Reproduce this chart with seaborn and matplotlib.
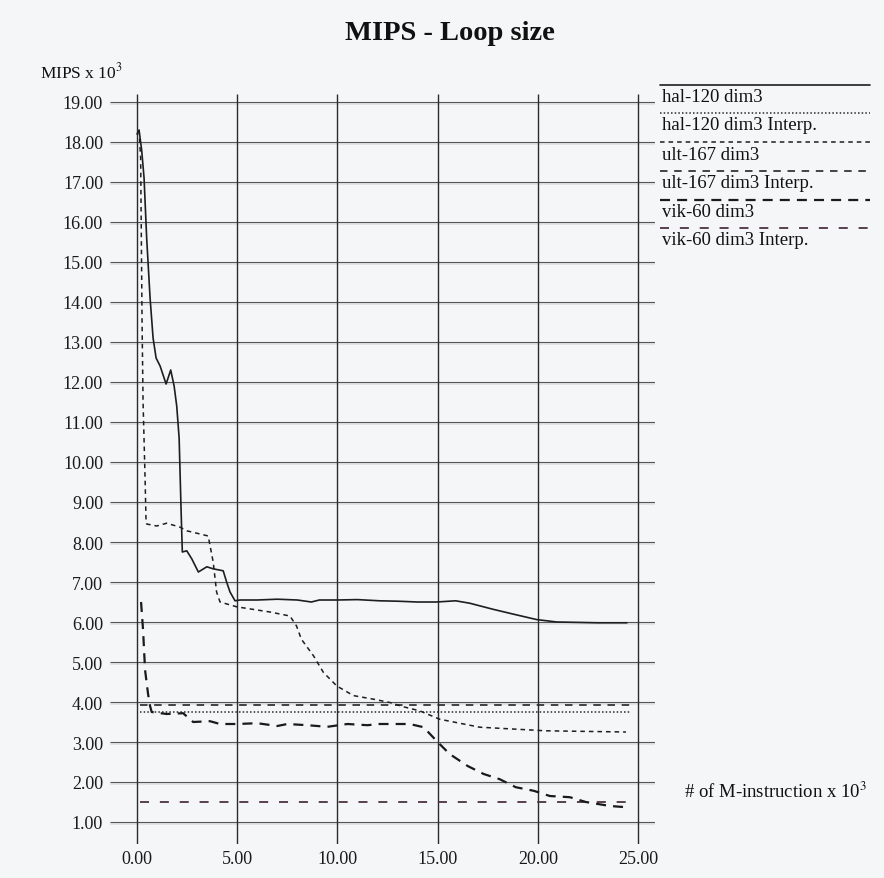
import matplotlib
matplotlib.use("Agg")
import matplotlib.pyplot as plt
import seaborn as sns
import numpy as np
import pandas as pd

# ---- data (x in 10^3 M-instructions, y in 10^3 MIPS) ----
hal_x = [0.0, 0.1, 0.23, 0.35, 0.48, 0.65, 0.8, 0.95, 1.15, 1.45, 1.68, 1.85, 1.98, 2.1,
         2.2, 2.26, 2.48, 2.73, 3.06, 3.48, 3.8, 4.3, 4.47, 4.64, 4.89, 5.14, 6.0, 7.0,
         8.0, 8.7, 9.1, 10.0, 11.0, 12.1, 13.0, 14.0, 14.95, 15.9, 16.6, 17.75, 18.75,
         19.95, 20.95, 22.0, 23.0, 24.45]
hal_y = [18.2, 18.3, 17.8, 17.1, 15.6, 14.1, 13.1, 12.6, 12.4, 11.95, 12.3, 11.9, 11.4, 10.6,
         8.75, 7.75, 7.78, 7.58, 7.25, 7.38, 7.33, 7.28, 7.0, 6.75, 6.53, 6.55, 6.55, 6.57,
         6.55, 6.5, 6.55, 6.55, 6.56, 6.53, 6.52, 6.5, 6.5, 6.53, 6.47, 6.32, 6.2,
         6.06, 6.0, 5.99, 5.98, 5.98]

ult_x = [0.1, 0.18, 0.25, 0.3, 0.4, 0.45, 0.48, 0.98, 1.48, 2.15, 2.48, 2.98, 3.55, 3.8,
         3.97, 4.14, 4.97, 6.63, 7.63, 7.96, 8.2, 8.8, 9.3, 9.97, 10.8, 11.8, 12.6, 13.3,
         14.1, 15.1, 17.1, 20.4, 24.4]
ult_y = [18.3, 17.6, 13.5, 11.5, 9.6, 8.5, 8.45, 8.4, 8.47, 8.37, 8.28, 8.22, 8.15, 7.5,
         6.75, 6.5, 6.38, 6.25, 6.15, 5.9, 5.57, 5.16, 4.74, 4.4, 4.16, 4.07, 3.99, 3.88,
         3.78, 3.57, 3.37, 3.28, 3.25]

vik_x = [0.2, 0.3, 0.4, 0.55, 0.65, 0.73, 1.48, 2.3, 2.8, 3.64, 4.14, 5.0, 6.0, 7.0, 7.5,
         8.5, 9.5, 10.5, 11.5, 12.1, 13.6, 14.3, 15.0, 15.6, 16.5, 17.3, 18.1, 18.9, 19.8,
         20.6, 21.6, 22.4, 23.6, 24.4]
vik_y = [6.5, 5.8, 4.8, 4.2, 3.9, 3.75, 3.7, 3.72, 3.5, 3.52, 3.45, 3.45, 3.47, 3.4, 3.45,
         3.42, 3.38, 3.45, 3.42, 3.45, 3.45, 3.37, 3.0, 2.7, 2.4, 2.2, 2.07, 1.87, 1.78,
         1.65, 1.62, 1.5, 1.4, 1.37]

interp_x = [0.15, 24.6]
hal_interp = 3.75
ult_interp = 3.92
vik_interp = 1.5

series_names = ["hal-120 dim3", "hal-120 dim3 Interp.", "ult-167 dim3",
                "ult-167 dim3 Interp.", "vik-60 dim3", "vik-60 dim3 Interp."]

x_ticks = [0, 5, 10, 15, 20, 25]
y_ticks = list(range(1, 20))

# ---- styles ----
styles = {
    "hal-120 dim3": dict(ls="-", lw=1.2, color="#1e1e1e"),
    "hal-120 dim3 Interp.": dict(ls=(0, (1.0, 1.4)), lw=1.1, color="#2a2a2a"),
    "ult-167 dim3": dict(ls=(0, (3.0, 2.6)), lw=1.1, color="#1e1e1e"),
    "ult-167 dim3 Interp.": dict(ls=(0, (4.5, 4.0)), lw=1.2, color="#262626"),
    "vik-60 dim3": dict(ls=(0, (4.5, 3.2)), lw=1.6, color="#1a1a1a"),
    "vik-60 dim3 Interp.": dict(ls=(0, (5.0, 6.0)), lw=1.3, color="#4a3340"),
}

sns.set_style("white")
plt.rcParams["font.family"] = ["Liberation Serif", "DejaVu Serif"]
plt.rcParams["mathtext.fontset"] = "stix"

bg = "#f4f6f8"
fig = plt.figure(figsize=(8.84, 8.79), dpi=100, facecolor=bg)

W, H = 884, 879
x0_pix, x1_pix = 110, 655
yb_pix, yt_pix = 845, 95
ax = fig.add_axes([x0_pix / W, 1 - yb_pix / H, (x1_pix - x0_pix) / W, (yb_pix - yt_pix) / H])
ax.set_facecolor(bg)
xmin, xmax = -1.35, 25.85
ymin, ymax = 0.45, 19.2
ax.set_xlim(xmin, xmax)
ax.set_ylim(ymin, ymax)
for s in ax.spines.values():
    s.set_visible(False)

# grid, scanned look: dark line with a pale shadow just below
ax.hlines([v - 0.06 for v in y_ticks], xmin, xmax, color="#dfe1e3", lw=1.3, zorder=1)
ax.hlines(y_ticks, xmin, xmax, color="#555555", lw=0.8, zorder=2)
ax.vlines(x_ticks, ymin, 19.2, color="#2b2b2b", lw=1.0, zorder=2)

# data curves
curves = pd.concat([
    pd.DataFrame({"x": hal_x, "y": hal_y, "s": "hal-120 dim3"}),
    pd.DataFrame({"x": ult_x, "y": ult_y, "s": "ult-167 dim3"}),
    pd.DataFrame({"x": vik_x, "y": vik_y, "s": "vik-60 dim3"}),
])
for name, grp in curves.groupby("s"):
    st = styles[name]
    sns.lineplot(data=grp, x="x", y="y", ax=ax, sort=False, estimator=None,
                 color=st["color"], lw=st["lw"], linestyle=st["ls"], zorder=4)

for name, val in [("hal-120 dim3 Interp.", hal_interp),
                  ("ult-167 dim3 Interp.", ult_interp),
                  ("vik-60 dim3 Interp.", vik_interp)]:
    st = styles[name]
    sns.lineplot(x=interp_x, y=[val, val], ax=ax, color=st["color"],
                 lw=st["lw"], linestyle=st["ls"], zorder=3)

ax.set_xlabel("")
ax.set_ylabel("")
ax.set_xticks(x_ticks)
ax.set_xticklabels([f"{v:.2f}" for v in x_ticks], fontsize=13)
ax.set_yticks(y_ticks)
ax.set_yticklabels([f"{v:.2f}" for v in y_ticks], fontsize=13)
ax.tick_params(axis="both", length=0, colors="#1a1a1a")
ax.tick_params(axis="x", pad=4)
ax.tick_params(axis="y", pad=5)

# overlay in pixel coordinates for titles and legend
ov = fig.add_axes([0, 0, 1, 1], facecolor="none")
ov.set_xlim(0, W)
ov.set_ylim(H, 0)
ov.axis("off")

ov.text(450, 34, "MIPS - Loop size", ha="center", va="center",
        fontsize=20.5, fontweight="bold", color="#111")
ov.text(40, 72, "MIPS x 10$^{3}$", ha="left", va="center", fontsize=12.5, color="#111")
ov.text(684, 792, "# of M-instruction x 10$^{3}$", ha="left", va="center",
        fontsize=13.5, color="#111")

leg_line_y = [86, 114, 143, 172, 201, 229]
for i, name in enumerate(series_names):
    st = styles[name]
    ly = leg_line_y[i]
    ov.plot([660, 870], [ly, ly], color=st["color"], lw=st["lw"], linestyle=st["ls"])
    ov.text(662, ly + 12, name, ha="left", va="center", fontsize=13.5, color="#111")

fig.savefig("out.png", dpi=100, facecolor=bg)
